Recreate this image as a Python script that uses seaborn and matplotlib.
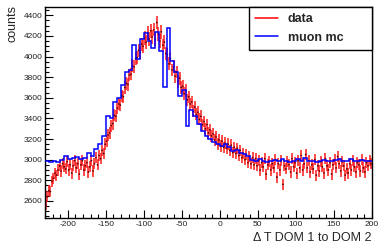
import numpy as np
import matplotlib
matplotlib.use("Agg")
import matplotlib.pyplot as plt
import seaborn as sns
from matplotlib.lines import Line2D
from matplotlib.ticker import MultipleLocator

# data histogram: 2-unit bins from -230 to 200
data_lo, data_w = -230, 2
data_counts = [
    2560, 2640, 2700, 2690, 2790, 2820, 2870, 2850, 2900, 2940,
    2890, 2960, 2930, 2910, 2980, 2900, 2950, 2870, 2940, 2990,
    2920, 2960, 2860, 2950, 2990, 2900, 2940, 2970, 2880, 2930,
    2990, 2890, 2960, 3020, 2950, 3040, 3010, 3090, 3060, 3150,
    3180, 3240, 3260, 3330, 3350, 3430, 3420, 3500, 3540, 3530,
    3620, 3610, 3700, 3740, 3730, 3820, 3830, 3910, 3900, 3980,
    3990, 4060, 4040, 4120, 4100, 4180, 4140, 4230, 4170, 4250,
    4190, 4260, 4170, 4330, 4220, 4150, 4240, 4110, 4140, 4030,
    4020, 3930, 3980, 3870, 3900, 3810, 3850, 3760, 3790, 3700,
    3710, 3640, 3670, 3580, 3610, 3540, 3560, 3470, 3510, 3440,
    3460, 3390, 3420, 3340, 3370, 3300, 3340, 3260, 3290, 3230,
    3250, 3190, 3220, 3150, 3190, 3130, 3180, 3120, 3160, 3110,
    3150, 3090, 3140, 3070, 3120, 3060, 3110, 3040, 3090, 3020,
    3060, 3000, 3050, 2970, 3030, 2960, 3020, 2950, 3010, 2940,
    2990, 2900, 2970, 2930, 3010, 2860, 2950, 2980, 2900, 2960,
    2920, 3000, 2830, 2960, 2900, 2990, 2760, 2940, 2910, 2980,
    2950, 2880, 3010, 2930, 2970, 2870, 2990, 2920, 3040, 2900,
    2960, 3050, 2920, 2990, 2880, 2950, 2910, 3000, 2850, 2940,
    2890, 2980, 2930, 2870, 3010, 2940, 2900, 2970, 2860, 2950,
    3000, 2920, 3030, 2960, 2890, 2980, 2940, 2850, 2910, 2870,
    2960, 2900, 2990, 2930, 2880, 2970, 2950, 2890, 3000, 2920,
    2880, 2970, 2940, 2990, 2960,
]

# muon mc histogram: 5-unit bins from -230 to 200
mc_lo, mc_w = -230, 5
mc_counts = [
    2985, 2980, 2990, 2975, 3000, 3040, 3005, 3020, 3030, 3010,
    3020, 3060, 3040, 3100, 3150, 3230, 3420, 3400, 3560, 3600,
    3720, 3850, 3870, 4110, 3980, 4170, 4230, 4150, 4080, 4240,
    4050, 3700, 4280, 3960, 3850, 3620, 3680, 3330, 3480, 3420,
    3350, 3280, 3230, 3200, 3170, 3150, 3130, 3150, 3120, 3080,
    3090, 3060, 3055, 3040, 2995, 2990, 3010, 2985, 2980, 2985,
    3000, 2985, 3010, 2990, 2980, 2990, 3005, 2985, 3015, 2990,
    2985, 2980, 2990, 3000, 2985, 2990, 2995, 3010, 2985, 2990,
    3005, 2985, 2990, 3000, 2985, 2990,
]

sns.set_theme(style="white")
plt.rcParams.update({"font.family": ["Liberation Sans", "DejaVu Sans"],
                     "axes.unicode_minus": False})

d_y = np.array(data_counts, dtype=float)
d_x = data_lo + data_w * (np.arange(len(d_y)) + 0.5)
d_err = np.sqrt(d_y)
mc_y = np.array(mc_counts, dtype=float)
mc_edges = mc_lo + mc_w * np.arange(len(mc_y) + 1)

fig = plt.figure(figsize=(3.79, 2.44), dpi=100)
ax = fig.add_axes([0.119, 0.107, 0.862, 0.864])

ax.errorbar(d_x, d_y, yerr=d_err, fmt="none", ecolor="#ff1a1a", elinewidth=1.3, alpha=0.85, zorder=2)
sns.scatterplot(x=d_x, y=d_y, ax=ax, s=1.5, color="#550000", edgecolor="none", zorder=3, legend=False)
ax.stairs(mc_y, mc_edges, color="#0000ff", linewidth=1.1, baseline=None, zorder=4)

ax.set_xlim(-230, 200)
ax.set_ylim(2435, 4480)
ax.xaxis.set_major_locator(MultipleLocator(50))
ax.xaxis.set_minor_locator(MultipleLocator(10))
ax.yaxis.set_major_locator(MultipleLocator(200))
ax.yaxis.set_minor_locator(MultipleLocator(50))
ax.tick_params(which="both", direction="in", top=False, right=False, left=True, bottom=True,
               labelsize=6, labelcolor="#222222", color="black", width=0.8, pad=2)
ax.tick_params(which="major", length=6)
ax.tick_params(which="minor", length=3)
for s in ax.spines.values():
    s.set_color("black")
    s.set_linewidth(1.0)
ax.set_xlabel("")
ax.set_ylabel("")

fig.text(0.032, 0.98, "counts", rotation=90, ha="center", va="top", fontsize=9)
fig.text(0.981, 0.025, "\u0394 T DOM 1 to DOM 2", ha="right", va="center", fontsize=9)

handles = [Line2D([], [], color="#ff0000", lw=1.1), Line2D([], [], color="#0000ff", lw=1.1)]
leg = ax.legend(handles, ["data", "muon mc"], loc="upper left",
                bbox_to_anchor=(0.624, 0.749, 0.376, 0.251), mode="expand", borderaxespad=0,
                fancybox=False, framealpha=1, edgecolor="black", handlelength=1.8,
                prop={"weight": "bold", "size": 9}, labelspacing=0.5, borderpad=0.5)
leg.get_frame().set_linewidth(1.0)

fig.savefig("out.png", dpi=100)
